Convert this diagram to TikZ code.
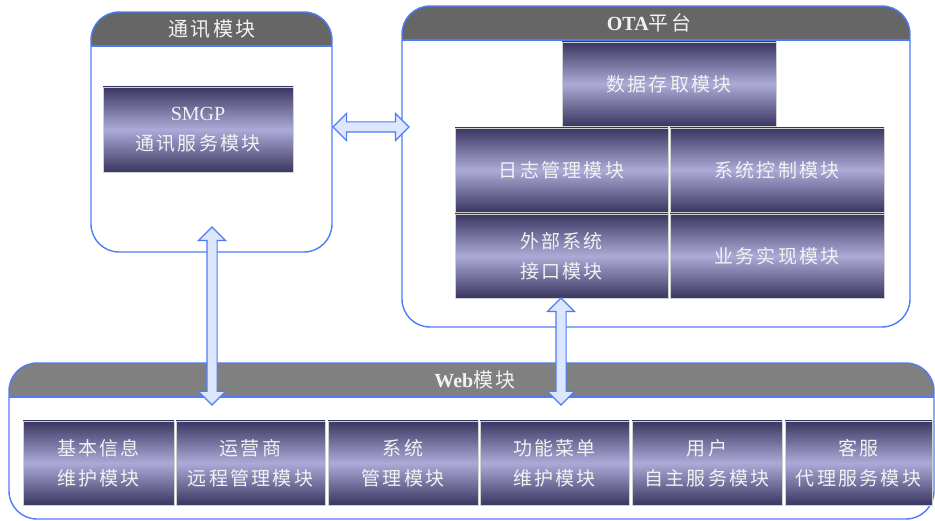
\documentclass[tikz,border=0pt]{standalone}
\usepackage{fontspec}
\setmainfont{Liberation Serif}
\newfontfamily\cjk[LetterSpace=12]{Noto Sans CJK SC}
\usetikzlibrary{shapes.arrows}
\definecolor{bordblue}{HTML}{4D7CF5}
\definecolor{hdrgray}{HTML}{666666}
\definecolor{webgray}{HTML}{808080}
\definecolor{modtop}{HTML}{3A3662}
\definecolor{modmid}{HTML}{ACAAD6}
\definecolor{arrfill}{HTML}{DCE6FD}
\definecolor{txt}{HTML}{F2F2F2}
\tikzset{
  module/.style={draw=black!18, line width=0.8pt, top color=modtop, bottom color=modtop,
    middle color=modmid, text=txt, align=center, inner sep=0pt,
    font=\cjk\fontsize{19}{30}\selectfont},
  outerbox/.style={draw=bordblue, line width=1.4pt, rounded corners=28pt},
  hdrtext/.style={text=txt, font=\fontsize{20}{22}\selectfont, inner sep=0pt},
  dbl/.style={double arrow, draw=bordblue, fill=arrfill, line width=1.1pt, inner sep=4.5pt,
    double arrow head extend=8.5pt, double arrow tip angle=90}
}
\begin{document}
\begin{tikzpicture}[x=1pt,y=-1pt]
\useasboundingbox (0,0) rectangle (935,521);
% ---------- outer boxes ----------
% comm
\begin{scope}
  \clip[rounded corners=28pt] (91,12) rectangle (332,252);
  \fill[hdrgray] (91,12) rectangle (332,46);
\end{scope}
\draw[bordblue, line width=1.4pt] (91,46) -- (332,46);
\draw[outerbox] (91,12) rectangle (332,252);
\node[hdrtext] (commhdr) at (212,29) {{\cjk 通讯模块}};
% OTA
\begin{scope}
  \clip[rounded corners=28pt] (402,6) rectangle (910,327);
  \fill[hdrgray] (402,6) rectangle (910,40);
\end{scope}
\draw[bordblue, line width=1.4pt] (402,40) -- (910,40);
\draw[outerbox] (402,6) rectangle (910,327);
\node[hdrtext] (otahdr) at (649,23) {\textbf{OTA}{\cjk 平台}};
% Web
\begin{scope}
  \clip[rounded corners=28pt] (9,363) rectangle (934,519);
  \fill[webgray] (9,363) rectangle (934,397);
\end{scope}
\draw[bordblue, line width=1.4pt] (9,397) -- (934,397);
\draw[outerbox] (9,363) rectangle (934,519);
\node[hdrtext] (webhdr) at (475,380) {\textbf{Web}{\cjk 模块}};
% ---------- modules ----------
\node[module, minimum width=190, minimum height=85] (smgp) at (198,129.5)
  {{\rmfamily\fontsize{20}{30}\selectfont SMGP}\\通讯服务模块};
\node[module, minimum width=214, minimum height=84] (data) at (669,84) {数据存取模块};
\node[module, minimum width=213, minimum height=84] (log) at (561.5,170) {日志管理模块};
\node[module, minimum width=214, minimum height=84] (ctrl) at (777,170) {系统控制模块};
\node[module, minimum width=213, minimum height=84] (ext) at (561.5,256) {外部系统\\接口模块};
\node[module, minimum width=214, minimum height=84] (biz) at (777,256) {业务实现模块};
\node[module, minimum width=151, minimum height=84] (w1) at (98.5,463) {基本信息\\维护模块};
\node[module, minimum width=149, minimum height=84] (w2) at (250.5,463) {运营商\\远程管理模块};
\node[module, minimum width=150, minimum height=84] (w3) at (403,463) {系统\\管理模块};
\node[module, minimum width=149, minimum height=84] (w4) at (554.5,463) {功能菜单\\维护模块};
\node[module, minimum width=150, minimum height=84] (w5) at (707,463) {用户\\自主服务模块};
\node[module, minimum width=147, minimum height=84] (w6) at (858.5,463) {客服\\代理服务模块};
% ---------- arrows ----------
\node[dbl, minimum height=76] (a1) at (371,127) {};
\node[dbl, minimum height=178, rotate=90] (a2) at (212,316) {};
\node[dbl, minimum height=107, rotate=90] (a3) at (561,351.5) {};
\end{tikzpicture}
\end{document}
